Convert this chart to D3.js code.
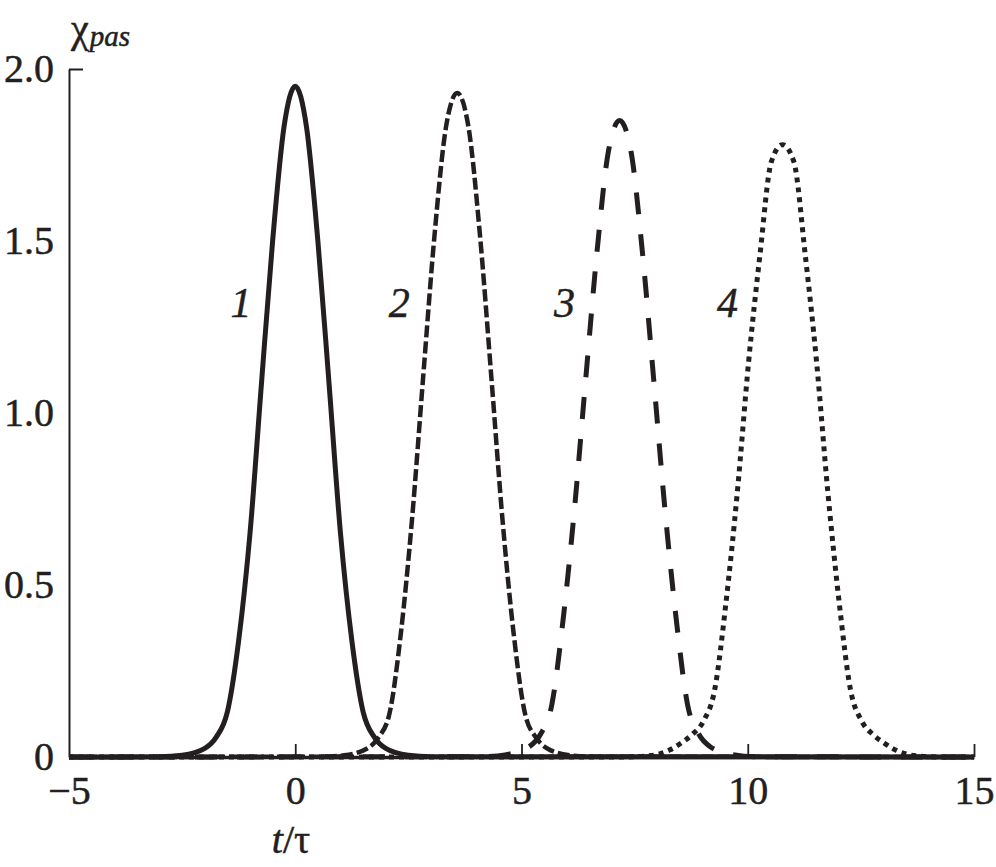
<!DOCTYPE html>
<html>
<head>
<meta charset="utf-8">
<script src="https://cdn.jsdelivr.net/npm/d3@7"></script>
<style>
  html, body { margin: 0; padding: 0; background: #fff; }
  svg { display: block; }
  text { font-family: "Liberation Serif", "Times New Roman", Times, serif; fill: #231f20; stroke: #231f20; stroke-width: 0.5px; }
</style>
</head>
<body>
<svg id="chart" width="996" height="867"></svg>
<script>
// ---- data ----
const xTicks = [-5, 0, 5, 10, 15];
const yTicks = [0, 0.5, 1.0, 1.5, 2.0];
const yTickLabels = ["0", "0.5", "1.0", "1.5", "2.0"];
const curveLabels = ["1", "2", "3", "4"];
const labelPos = [[-1.2, 1.28], [2.3, 1.28], [5.95, 1.28], [9.55, 1.28]];

const x1 = [-5, -3, -2.5, -2, -1.75, -1.5, -1.25, -1, -0.75, -0.5, -0.25, 0, 0.25, 0.5, 0.75, 1, 1.25, 1.5, 1.75, 2, 2.5, 3, 15];
const y1 = [0, 0.001, 0.005, 0.025, 0.057, 0.131, 0.339, 0.65, 1.08, 1.50, 1.83, 1.95, 1.83, 1.50, 1.08, 0.65, 0.339, 0.131, 0.057, 0.025, 0.005, 0.001, 0];

const x2 = [-5, 0.58, 1.08, 1.58, 1.83, 2.08, 2.33, 2.58, 2.83, 3.08, 3.33, 3.58, 3.83, 4.08, 4.33, 4.58, 4.83, 5.08, 5.33, 5.58, 6.08, 6.58, 15];
const y2 = [0, 0.001, 0.005, 0.024, 0.055, 0.125, 0.355, 0.69, 1.11, 1.52, 1.83, 1.93, 1.83, 1.52, 1.11, 0.69, 0.355, 0.125, 0.055, 0.024, 0.005, 0.001, 0];

const x3 = [-5, 4.17, 4.67, 5.17, 5.42, 5.67, 5.92, 6.17, 6.42, 6.67, 6.92, 7.17, 7.42, 7.67, 7.92, 8.17, 8.42, 8.67, 8.92, 9.17, 9.67, 10.17, 15];
const y3 = [0, 0.001, 0.007, 0.03, 0.066, 0.152, 0.40, 0.72, 1.10, 1.47, 1.76, 1.85, 1.76, 1.47, 1.10, 0.72, 0.40, 0.152, 0.066, 0.03, 0.007, 0.001, 0];

const x4 = [-5, 7.27, 7.77, 8.02, 8.27, 8.52, 8.77, 9.02, 9.27, 9.52, 9.77, 10.02, 10.27, 10.52, 10.77, 11.02, 11.27, 11.52, 11.77, 12.02, 12.27, 12.52, 12.77, 13.02, 13.27, 13.52, 13.77, 14.27, 15];
const y4 = [0, 0, 0.003, 0.008, 0.02, 0.04, 0.065, 0.104, 0.196, 0.45, 0.77, 1.15, 1.46, 1.73, 1.78, 1.73, 1.46, 1.15, 0.77, 0.45, 0.196, 0.104, 0.065, 0.04, 0.02, 0.008, 0.003, 0, 0];

const series = [
  { name: "1", xs: x1, ys: y1, dash: null,    width: 5 },
  { name: "2", xs: x2, ys: y2, dash: "12,4",  width: 4.5 },
  { name: "3", xs: x3, ys: y3, dash: "22,20", width: 5 },
  { name: "4", xs: x4, ys: y4, dash: "5,5",   width: 5 }
];

// ---- layout ----
const svg = d3.select("#chart");
const x = d3.scaleLinear().domain([-5, 15]).range([69, 974]);
const y = d3.scaleLinear().domain([0, 2]).range([757, 69]);
const ink = "#231f20";

// curves
const line = d3.line()
  .x(d => x(d[0]))
  .y(d => y(d[1]))
  .curve(d3.curveMonotoneX);

series.forEach(s => {
  const pts = s.xs.map((v, i) => [v, s.ys[i]]);
  svg.append("path")
    .datum(pts)
    .attr("d", line)
    .attr("fill", "none")
    .attr("stroke", ink)
    .attr("stroke-width", s.width)
    .attr("stroke-linecap", "butt")
    .attr("stroke-linejoin", "round")
    .attr("stroke-dasharray", s.dash);
});

// x axis (ticks inward)
const gx = svg.append("g")
  .attr("transform", `translate(0,${y(0)})`)
  .call(d3.axisBottom(x).tickValues(xTicks).tickSizeInner(-13).tickSizeOuter(0)
    .tickFormat(d => d < 0 ? "\u2212" + Math.abs(d) : String(d)));
gx.select(".domain").attr("stroke", ink).attr("stroke-width", 3.5);
gx.selectAll(".tick line").attr("stroke", ink).attr("stroke-width", 1.8);
gx.selectAll(".tick text")
  .attr("y", 19)
  .attr("dy", "0.71em")
  .style("font-size", "40px")
  .style("font-family", "'Liberation Serif', 'Times New Roman', serif")
  .attr("fill", ink);
gx.selectAll(".tick").filter(d => d === -5).select("line").remove();

// y axis
const gy = svg.append("g")
  .attr("transform", `translate(${x(-5)},0)`)
  .call(d3.axisLeft(y).tickValues(yTicks).tickSize(0).tickPadding(15)
    .tickFormat((d, i) => yTickLabels[i]));
gy.select(".domain").attr("stroke", ink).attr("stroke-width", 2);
gy.selectAll(".tick text")
  .style("font-size", "40px")
  .style("font-family", "'Liberation Serif', 'Times New Roman', serif")
  .attr("fill", ink);

// top tick at 2.0 (pointing inward)
const gyt = svg.append("g")
  .attr("transform", `translate(${x(-5)},0)`)
  .call(d3.axisRight(y).tickValues([2]).tickSize(14).tickFormat(""));
gyt.select(".domain").remove();
gyt.selectAll(".tick line").attr("stroke", ink).attr("stroke-width", 2);

// curve labels
svg.append("g").selectAll("text")
  .data(curveLabels)
  .join("text")
  .attr("x", (d, i) => x(labelPos[i][0]))
  .attr("y", (d, i) => y(labelPos[i][1]))
  .attr("text-anchor", "middle")
  .style("font-size", "42px")
  .style("font-style", "italic")
  .text(d => d);

// axis titles
const xt = svg.append("text")
  .attr("x", 291)
  .attr("y", 853)
  .attr("text-anchor", "middle")
  .style("font-size", "40px");
xt.append("tspan").style("font-style", "italic").text("t");
xt.append("tspan").text("/\u03c4");

const yt = svg.append("text")
  .attr("x", 71)
  .attr("y", 42)
  .style("font-size", "40px");
yt.append("tspan").text("\u03c7");
yt.append("tspan").style("font-style", "italic").style("font-size", "29px").attr("dy", 4).attr("dx", 1).text("pas");
</script>
</body>
</html>
